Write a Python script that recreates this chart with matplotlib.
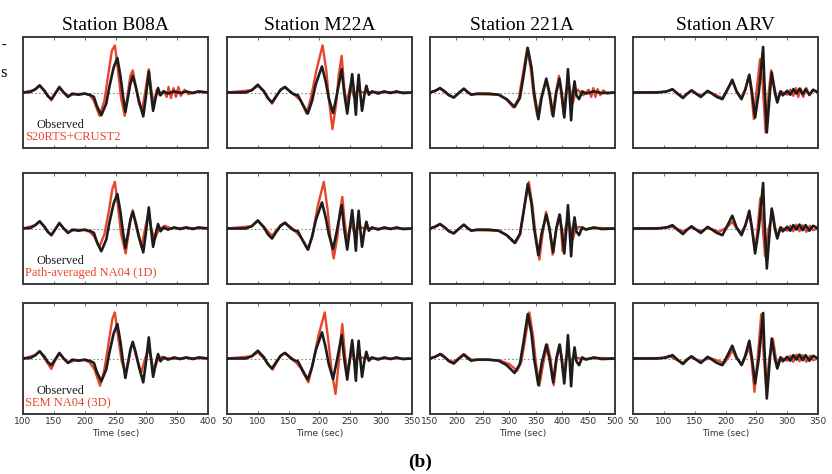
import numpy as np
import matplotlib
matplotlib.use("Agg")
import matplotlib.pyplot as plt

STATIONS = ["B08A", "M22A", "221A", "ARV"]
XLIMS = [(100, 400), (50, 350), (150, 500), (50, 350)]
XTICKS = [range(100, 401, 50), range(50, 351, 50), range(150, 501, 50), range(50, 351, 50)]
MODELS = ["S20RTS+CRUST2", "Path-averaged NA04 (1D)", "SEM NA04 (3D)"]

# observed seismograms, (time sec, normalised amplitude)
obs_b08a = [(100, 0), (112, 0.01), (120, 0.06), (127, 0.13), (135, 0.03), (140, -0.06), (146, -0.12),
            (152, -0.02), (159, 0.1), (166, 0.0), (173, -0.08), (180, -0.02), (190, -0.04), (200, -0.02),
            (210, -0.05), (215, -0.08), (220, -0.25), (227, -0.41), (235, -0.2), (240, 0.1), (247, 0.45),
            (253, 0.62), (258, 0.3), (262, -0.05), (266, -0.35), (270, -0.1), (274, 0.15), (278, 0.3),
            (283, 0.1), (288, -0.15), (295, -0.43), (299, -0.1), (304, 0.38), (307, 0.05), (311, -0.33),
            (315, -0.1), (319, 0.08), (323, -0.05), (328, 0.02), (335, -0.02), (345, 0.02), (355, -0.01),
            (365, 0.02), (375, -0.01), (385, 0.02), (400, 0)]
obs_m22a = [(50, 0), (80, 0.0), (90, 0.04), (100, 0.14), (110, 0.02), (116, -0.1), (123, -0.18),
            (130, -0.06), (137, 0.05), (144, 0.1), (152, 0.02), (158, -0.03), (165, -0.05), (172, -0.2),
            (181, -0.38), (188, -0.15), (194, 0.15), (204, 0.47), (210, 0.2), (215, -0.1), (222, -0.37),
            (228, -0.05), (236, 0.42), (240, 0.0), (245, -0.38), (249, -0.02), (253, 0.33), (256, 0.0),
            (259, -0.4), (261, 0.0), (263.5, 0.32), (266, 0.0), (269, -0.33), (273, -0.03), (276, 0.12),
            (280, -0.04), (285, 0.02), (295, -0.02), (305, 0.02), (315, -0.01), (325, 0.02), (335, -0.01),
            (350, 0)]
obs_221a = [(150, 0), (160, 0.03), (169, 0.08), (178, 0.02), (186, -0.05), (195, -0.09), (204, -0.01),
            (214, 0.07), (222, 0.0), (228, -0.04), (240, -0.02), (260, -0.02), (280, -0.04), (295, -0.12),
            (310, -0.26), (320, -0.1), (327, 0.3), (335, 0.8), (342, 0.45), (347, 0.0), (355, -0.48),
            (361, -0.1), (370, 0.25), (376, 0.0), (383, -0.43), (389, 0.0), (395, 0.25), (399, 0.0),
            (404, -0.45), (408, 0.0), (411, 0.42), (414, 0.0), (417, -0.5), (420, -0.05), (423.5, 0.2),
            (427, -0.05), (432, -0.12), (438, 0.02), (445, -0.02), (460, 0.02), (475, -0.01), (500, 0)]
obs_arv = [(50, 0), (90, 0.0), (105, 0.02), (114, 0.06), (122, -0.02), (131, -0.1), (138, -0.02),
           (145, 0.04), (152, -0.02), (160, -0.08), (166, -0.02), (171, 0.03), (178, -0.02), (186, -0.08),
           (195, -0.12), (203, 0.05), (211, 0.23), (218, 0.02), (226, -0.12), (232, 0.05), (238.6, 0.32),
           (243, 0.0), (248, -0.45), (254, 0.0), (261, 0.82), (263, 0.2), (267, -0.72), (272, 0.0),
           (275, 0.36), (280, 0.0), (284, -0.18), (289, 0.02), (293, -0.05), (300, 0.03), (305, -0.04),
           (310, 0.06), (315, -0.02), (320, 0.07), (325, -0.03), (330, 0.06), (336, -0.04), (342, 0.05),
           (350, 0)]

# synthetics, S20RTS+CRUST2
s20_b08a = [(100, 0), (120, 0.05), (127, 0.12), (135, 0.02), (146, -0.14), (152, -0.03), (159, 0.08),
            (166, 0), (173, -0.06), (185, -0.03), (200, -0.02), (208, -0.04), (215, -0.15), (224, -0.42),
            (232, -0.15), (238, 0.3), (244, 0.75), (249, 0.85), (254, 0.4), (259, -0.1), (265, -0.42),
            (269, -0.1), (274, 0.3), (278, 0.4), (283, 0.1), (288, -0.2), (293, -0.32), (298, 0.0),
            (304, 0.42), (308, 0.05), (312, -0.2), (317, 0.05), (322, -0.05), (328, 0.03), (333, -0.08),
            (336, 0.1), (340, -0.1), (344, 0.08), (348, -0.08), (352, 0.1), (356, -0.06), (362, 0.05),
            (368, -0.03), (380, 0.01), (400, 0)]
s20_m22a = [(50, 0), (90, 0.04), (100, 0.12), (110, 0.02), (123, -0.2), (137, 0.05), (144, 0.09),
            (158, -0.03), (170, -0.15), (179, -0.38), (186, -0.1), (195, 0.4), (205, 0.85), (211, 0.4),
            (216, -0.2), (221, -0.66), (227, -0.2), (231, 0.3), (236, 0.66), (240, 0.1), (244, -0.2),
            (250, 0.12), (256, -0.08), (262, 0.04), (270, 0), (290, 0.01), (350, 0)]
s20_221a = [(150, 0), (169, 0.07), (186, -0.05), (195, -0.09), (214, 0.06), (228, -0.03), (280, -0.04),
            (295, -0.13), (308, -0.27), (318, -0.1), (326, 0.35), (334, 0.81), (341, 0.4), (346, -0.05),
            (353, -0.42), (360, -0.1), (369.6, 0.22), (375, 0.0), (381, -0.4), (388, 0.0), (394, 0.3),
            (398, 0.0), (403, -0.39), (407, 0.0), (412, 0.2), (416, 0.0), (420, -0.2), (425, 0.0),
            (430, 0.05), (440, -0.05), (450, 0.05), (455, -0.08), (459, 0.08), (463, -0.08), (467, 0.06),
            (472, -0.05), (478, 0.04), (485, -0.02), (500, 0)]
s20_arv = [(50, 0), (100, 0.01), (114, 0.05), (131, -0.08), (145, 0.03), (160, -0.06), (171, 0.02),
           (195, -0.1), (203, 0.05), (211, 0.2), (218, 0.02), (225, -0.1), (232, 0.05), (238, 0.3),
           (242, 0.0), (246, -0.48), (250, 0.0), (256, 0.6), (260, 0.2), (265, -0.72), (270, 0.0),
           (274, 0.4), (280, 0.05), (284, -0.15), (290, 0.02), (300, -0.04), (305, 0.05), (310, -0.06),
           (314, 0.08), (318, -0.08), (322, 0.07), (326, -0.08), (331, 0.08), (336, -0.05), (342, 0.04),
           (350, 0)]

# synthetics, path-averaged NA04 (1D)
n1d_b08a = [(100, 0), (120, 0.06), (127, 0.13), (135, 0.02), (146, -0.12), (152, -0.02), (159, 0.09),
            (166, 0), (173, -0.07), (185, -0.02), (200, -0.03), (208, -0.06), (216, -0.15), (224, -0.33),
            (232, -0.1), (239, 0.3), (245, 0.72), (249, 0.84), (254, 0.4), (259, -0.1), (266.5, -0.45),
            (271, -0.1), (275, 0.2), (278, 0.33), (283, 0.05), (292, -0.33), (298, 0.0), (304, 0.3),
            (308, 0.0), (313.5, -0.2), (320, -0.02), (330, 0.05), (340, 0.0), (360, 0.01), (400, 0)]
n1d_m22a = [(50, 0), (90, 0.04), (100, 0.15), (110, 0.02), (123, -0.13), (137, 0.06), (144, 0.11),
            (158, -0.02), (170, -0.16), (182, -0.38), (189, -0.1), (197, 0.4), (207, 0.84), (213, 0.35),
            (218, -0.2), (223, -0.54), (229, -0.15), (233, 0.3), (237, 0.57), (241, 0.1), (245, -0.22),
            (251, 0.1), (257, -0.1), (263, 0.03), (275, 0), (350, 0)]
n1d_221a = [(150, 0), (169, 0.08), (186, -0.05), (195, -0.08), (214, 0.06), (228, -0.03), (280, -0.04),
            (297, -0.13), (312, -0.26), (321, -0.1), (328, 0.35), (337, 0.84), (344, 0.4), (349, -0.05),
            (357, -0.56), (363, -0.1), (369.6, 0.3), (376, 0.0), (382, -0.47), (389, 0.0), (396, 0.25),
            (398, 0.0), (401, -0.41), (406, 0.0), (411, 0.19), (416, 0.0), (420, -0.2), (426, 0.0),
            (432, 0.03), (445, -0.01), (470, 0.01), (500, 0)]
n1d_arv = [(50, 0), (100, 0.01), (114, 0.03), (131, -0.05), (145, 0.02), (160, -0.05), (171, 0.01),
           (190, -0.06), (203, 0.03), (211, 0.12), (218, 0.0), (225, -0.08), (232, 0.05), (238, 0.25),
           (243, 0.0), (248, -0.4), (252, 0.0), (256.5, 0.55), (260, 0.1), (264, -0.5), (270, 0.0),
           (276.6, 0.3), (280, 0.05), (284, -0.15), (290, 0.02), (300, -0.04), (305, 0.05), (310, -0.05),
           (315, 0.07), (320, -0.05), (325, 0.06), (331, -0.06), (337, 0.05), (342, -0.03), (350, 0)]

# synthetics, SEM NA04 (3D)
sem_b08a = [(100, 0), (120, 0.06), (127, 0.13), (135, 0.0), (146, -0.19), (152, -0.04), (159, 0.09),
            (166, 0), (173, -0.08), (185, -0.03), (200, -0.03), (208, -0.07), (216, -0.2), (225, -0.49),
            (232, -0.2), (239, 0.3), (245, 0.72), (249, 0.83), (254, 0.4), (260, -0.05), (266, -0.25),
            (271, -0.05), (275, 0.2), (278, 0.29), (283, 0.05), (292, -0.25), (298, 0.0), (304, 0.17),
            (308, 0.0), (312, -0.25), (318, -0.03), (325, 0.03), (340, -0.01), (360, 0.01), (400, 0)]
sem_m22a = [(50, 0), (90, 0.04), (100, 0.11), (110, 0.0), (124, -0.2), (137, 0.05), (144, 0.1),
            (158, -0.02), (170, -0.18), (182, -0.43), (189, -0.1), (198, 0.4), (208.5, 0.83), (214, 0.35),
            (220, -0.25), (226, -0.64), (231, -0.1), (234, 0.3), (237, 0.62), (241, 0.1), (245, -0.25),
            (252, 0.1), (258, -0.05), (265, 0.02), (280, 0), (350, 0)]
sem_221a = [(150, 0), (172, 0.08), (186, -0.04), (195, -0.06), (214, 0.08), (228, -0.02), (280, -0.03),
            (300, -0.1), (315, -0.22), (323, -0.05), (330, 0.35), (338, 0.83), (345, 0.4), (350, -0.05),
            (357, -0.49), (364, -0.1), (372, 0.25), (378, 0.0), (384, -0.48), (390, 0.0), (396, 0.25),
            (399, 0.0), (403, -0.31), (407, 0.0), (411, 0.08), (416, -0.03), (425, 0.02), (440, -0.01),
            (470, 0.01), (500, 0)]
sem_arv = [(50, 0), (100, 0.01), (108, 0.05), (130, -0.08), (143, 0.03), (160, -0.05), (175, 0.01),
           (198, -0.08), (205, 0.02), (211, 0.15), (218, 0.0), (227, -0.1), (232, 0.02), (238, 0.2),
           (242, 0.0), (247, -0.6), (252, 0.0), (258, 0.8), (261, 0.2), (266, -0.55), (271, 0.0),
           (277, 0.35), (281, 0.05), (285, -0.15), (290, 0.02), (300, -0.04), (305, 0.05), (310, -0.06),
           (315, 0.07), (320, -0.05), (325, 0.06), (331, -0.06), (337, 0.05), (342, -0.03), (350, 0)]

OBSERVED = [obs_b08a, obs_m22a, obs_221a, obs_arv]
SYNTHETIC = [
    [s20_b08a, s20_m22a, s20_221a, s20_arv],
    [n1d_b08a, n1d_m22a, n1d_221a, n1d_arv],
    [sem_b08a, sem_m22a, sem_221a, sem_arv],
]

RED = "#e8462c"
BLACK = "#1c1c1c"
FRAME = "#3a3a3a"
SERIF = "Liberation Serif"

W, H = 832, 474
COL_LEFT = [23, 227, 430, 633]
ROW_TOP = [37, 173, 303]
PW, PH = 185, 111

fig = plt.figure(figsize=(W / 100, H / 100), dpi=100)

for r in range(3):
    for c in range(4):
        ax = fig.add_axes([COL_LEFT[c] / W, 1 - (ROW_TOP[r] + PH) / H, PW / W, PH / H])
        syn = np.array(SYNTHETIC[r][c])
        obs = np.array(OBSERVED[c])
        ax.axhline(0, color="#888888", lw=0.8, ls=(0, (1.5, 2)), zorder=1)
        ax.plot(syn[:, 0], syn[:, 1], color=RED, lw=1.7, solid_joinstyle="round", zorder=2)
        ax.plot(obs[:, 0], obs[:, 1], color=BLACK, lw=1.9, solid_joinstyle="round", zorder=3)
        ax.set_xlim(*XLIMS[c])
        ax.set_ylim(-1, 1)
        ax.set_yticks([])
        ax.set_xticks(list(XTICKS[c]))
        ax.tick_params(axis="x", direction="in", top=True, length=2.5, width=0.6,
                       color="#555555", labelsize=6.5, labelcolor="#333333", pad=2.5)
        for sp in ax.spines.values():
            sp.set_color(FRAME)
            sp.set_linewidth(1.4)
        if r < 2:
            ax.tick_params(labelbottom=False)
        else:
            ax.set_xlabel("Time (sec)", fontsize=6.5, color="#333333", labelpad=2)
        if r == 0:
            ax.set_title(f"Station {STATIONS[c]}", family=SERIF, fontsize=14, pad=5)
        if c == 0:
            ax.text(0.075, 0.21, "Observed", transform=ax.transAxes, family=SERIF,
                    fontsize=9, color=BLACK, va="center")
            ax.text(0.01, 0.095, MODELS[r], transform=ax.transAxes, family=SERIF,
                    fontsize=9, color=RED, va="center")

fig.text(0.505, 0.025, "(b)", family=SERIF, fontsize=14, fontweight="bold", ha="center", va="center")
fig.text(0.002, 0.905, "-", family=SERIF, fontsize=10, ha="left", va="center")
fig.text(0.0, 0.845, "s", family=SERIF, fontsize=12, ha="left", va="center")

fig.savefig("out.png", dpi=100)
plt.close(fig)
